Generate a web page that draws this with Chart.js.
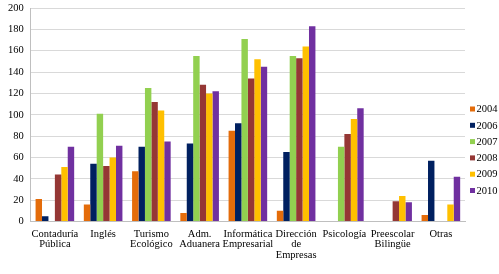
<!DOCTYPE html>
<html>
<head>
<meta charset="utf-8">
<script src="https://cdn.jsdelivr.net/npm/chart.js@4/dist/chart.umd.min.js"></script>
<style>
  html, body { margin: 0; padding: 0; background: #fff; }
  #wrap { width: 499px; height: 274px; }
</style>
</head>
<body>
<div id="wrap"><canvas id="barChart" width="499" height="274"></canvas></div>
<script>
// categorias (carreras)
const categories = [
  ["Contaduría", "Pública"],
  ["Inglés"],
  ["Turismo", "Ecológico"],
  ["Adm.", "Aduanera"],
  ["Informática", "Empresarial"],
  ["Dirección", "de", "Empresas"],
  ["Psicología"],
  ["Preescolar", "Bilingüe"],
  ["Otras"]
];

const years = ["2004", "2006", "2007", "2008", "2009", "2010"];

// valores
const v2004 = [21, 16, 47, 8, 85, 10, 0, 0, 6];
const v2006 = [5, 54, 70, 73, 92, 65, 0, 0, 57];
const v2007 = [0, 101, 125, 155, 171, 155, 70, 0, 0];
const v2008 = [44, 52, 112, 128, 134, 153, 82, 19, 0];
const v2009 = [51, 60, 104, 120, 152, 164, 96, 24, 16];
const v2010 = [70, 71, 75, 122, 145, 183, 106, 18, 42];

const colors = ["#E46C0A", "#002060", "#92D050", "#953735", "#FFC000", "#7030A0"];

const yTicks = [0, 20, 40, 60, 80, 100, 120, 140, 160, 180, 200];

const seriesValues = [v2004, v2006, v2007, v2008, v2009, v2010];

const serif = "'Liberation Serif'";
Chart.defaults.font.family = serif;

// leyenda a la derecha (cuadro pequeño pegado al texto, como en Excel)
const sideLegend = {
  id: "sideLegend",
  afterDraw(chart) {
    const ctx = chart.ctx;
    const x = chart.chartArea.right + 5;
    const y0 = 109;
    const step = 16.3;
    ctx.save();
    ctx.font = "10.5px " + serif;
    ctx.textBaseline = "middle";
    ctx.textAlign = "left";
    chart.data.datasets.forEach((ds, i) => {
      const y = y0 + i * step;
      ctx.fillStyle = ds.backgroundColor;
      ctx.fillRect(x, y - 2.5, 5, 5);
      ctx.fillStyle = "#000";
      ctx.fillText(ds.label, x + 6.5, y + 0.5);
    });
    ctx.restore();
  }
};

// sin relleno extra arriba: el area del grafico empieza donde dice layout.padding.top
const noTopPad = (scale) => { scale.paddingTop = 0; };

function draw() {
  new Chart(document.getElementById("barChart").getContext("2d"), {
    type: "bar",
    data: {
      labels: categories,
      datasets: years.map((y, i) => ({
        label: y,
        data: seriesValues[i],
        backgroundColor: colors[i],
        borderWidth: 0,
        barPercentage: 1.0,
        categoryPercentage: 0.8
      }))
    },
    options: {
      responsive: false,
      animation: false,
      layout: { padding: { top: 8, left: 1, right: 34, bottom: 7 } },
      plugins: {
        tooltip: { enabled: false },
        legend: { display: false }
      },
      scales: {
        x: {
          afterFit: noTopPad,
          grid: { display: false, drawTicks: false },
          border: { color: "#BFBFBF" },
          ticks: {
            color: "#000",
            maxRotation: 0,
            autoSkip: false,
            padding: 7,
            font: { family: serif, size: 10.5, lineHeight: 1.0 }
          }
        },
        y: {
          min: 0,
          max: 200,
          afterFit: noTopPad,
          afterBuildTicks: (axis) => { axis.ticks = yTicks.map(v => ({ value: v })); },
          grid: { color: "#D9D9D9", drawTicks: false },
          border: { color: "#BFBFBF" },
          ticks: {
            color: "#000",
            padding: 7,
            font: { family: serif, size: 10.5 }
          }
        }
      }
    },
    plugins: [sideLegend]
  });
}

document.fonts.load("10px 'Liberation Serif'").then(draw, draw);
</script>
</body>
</html>
